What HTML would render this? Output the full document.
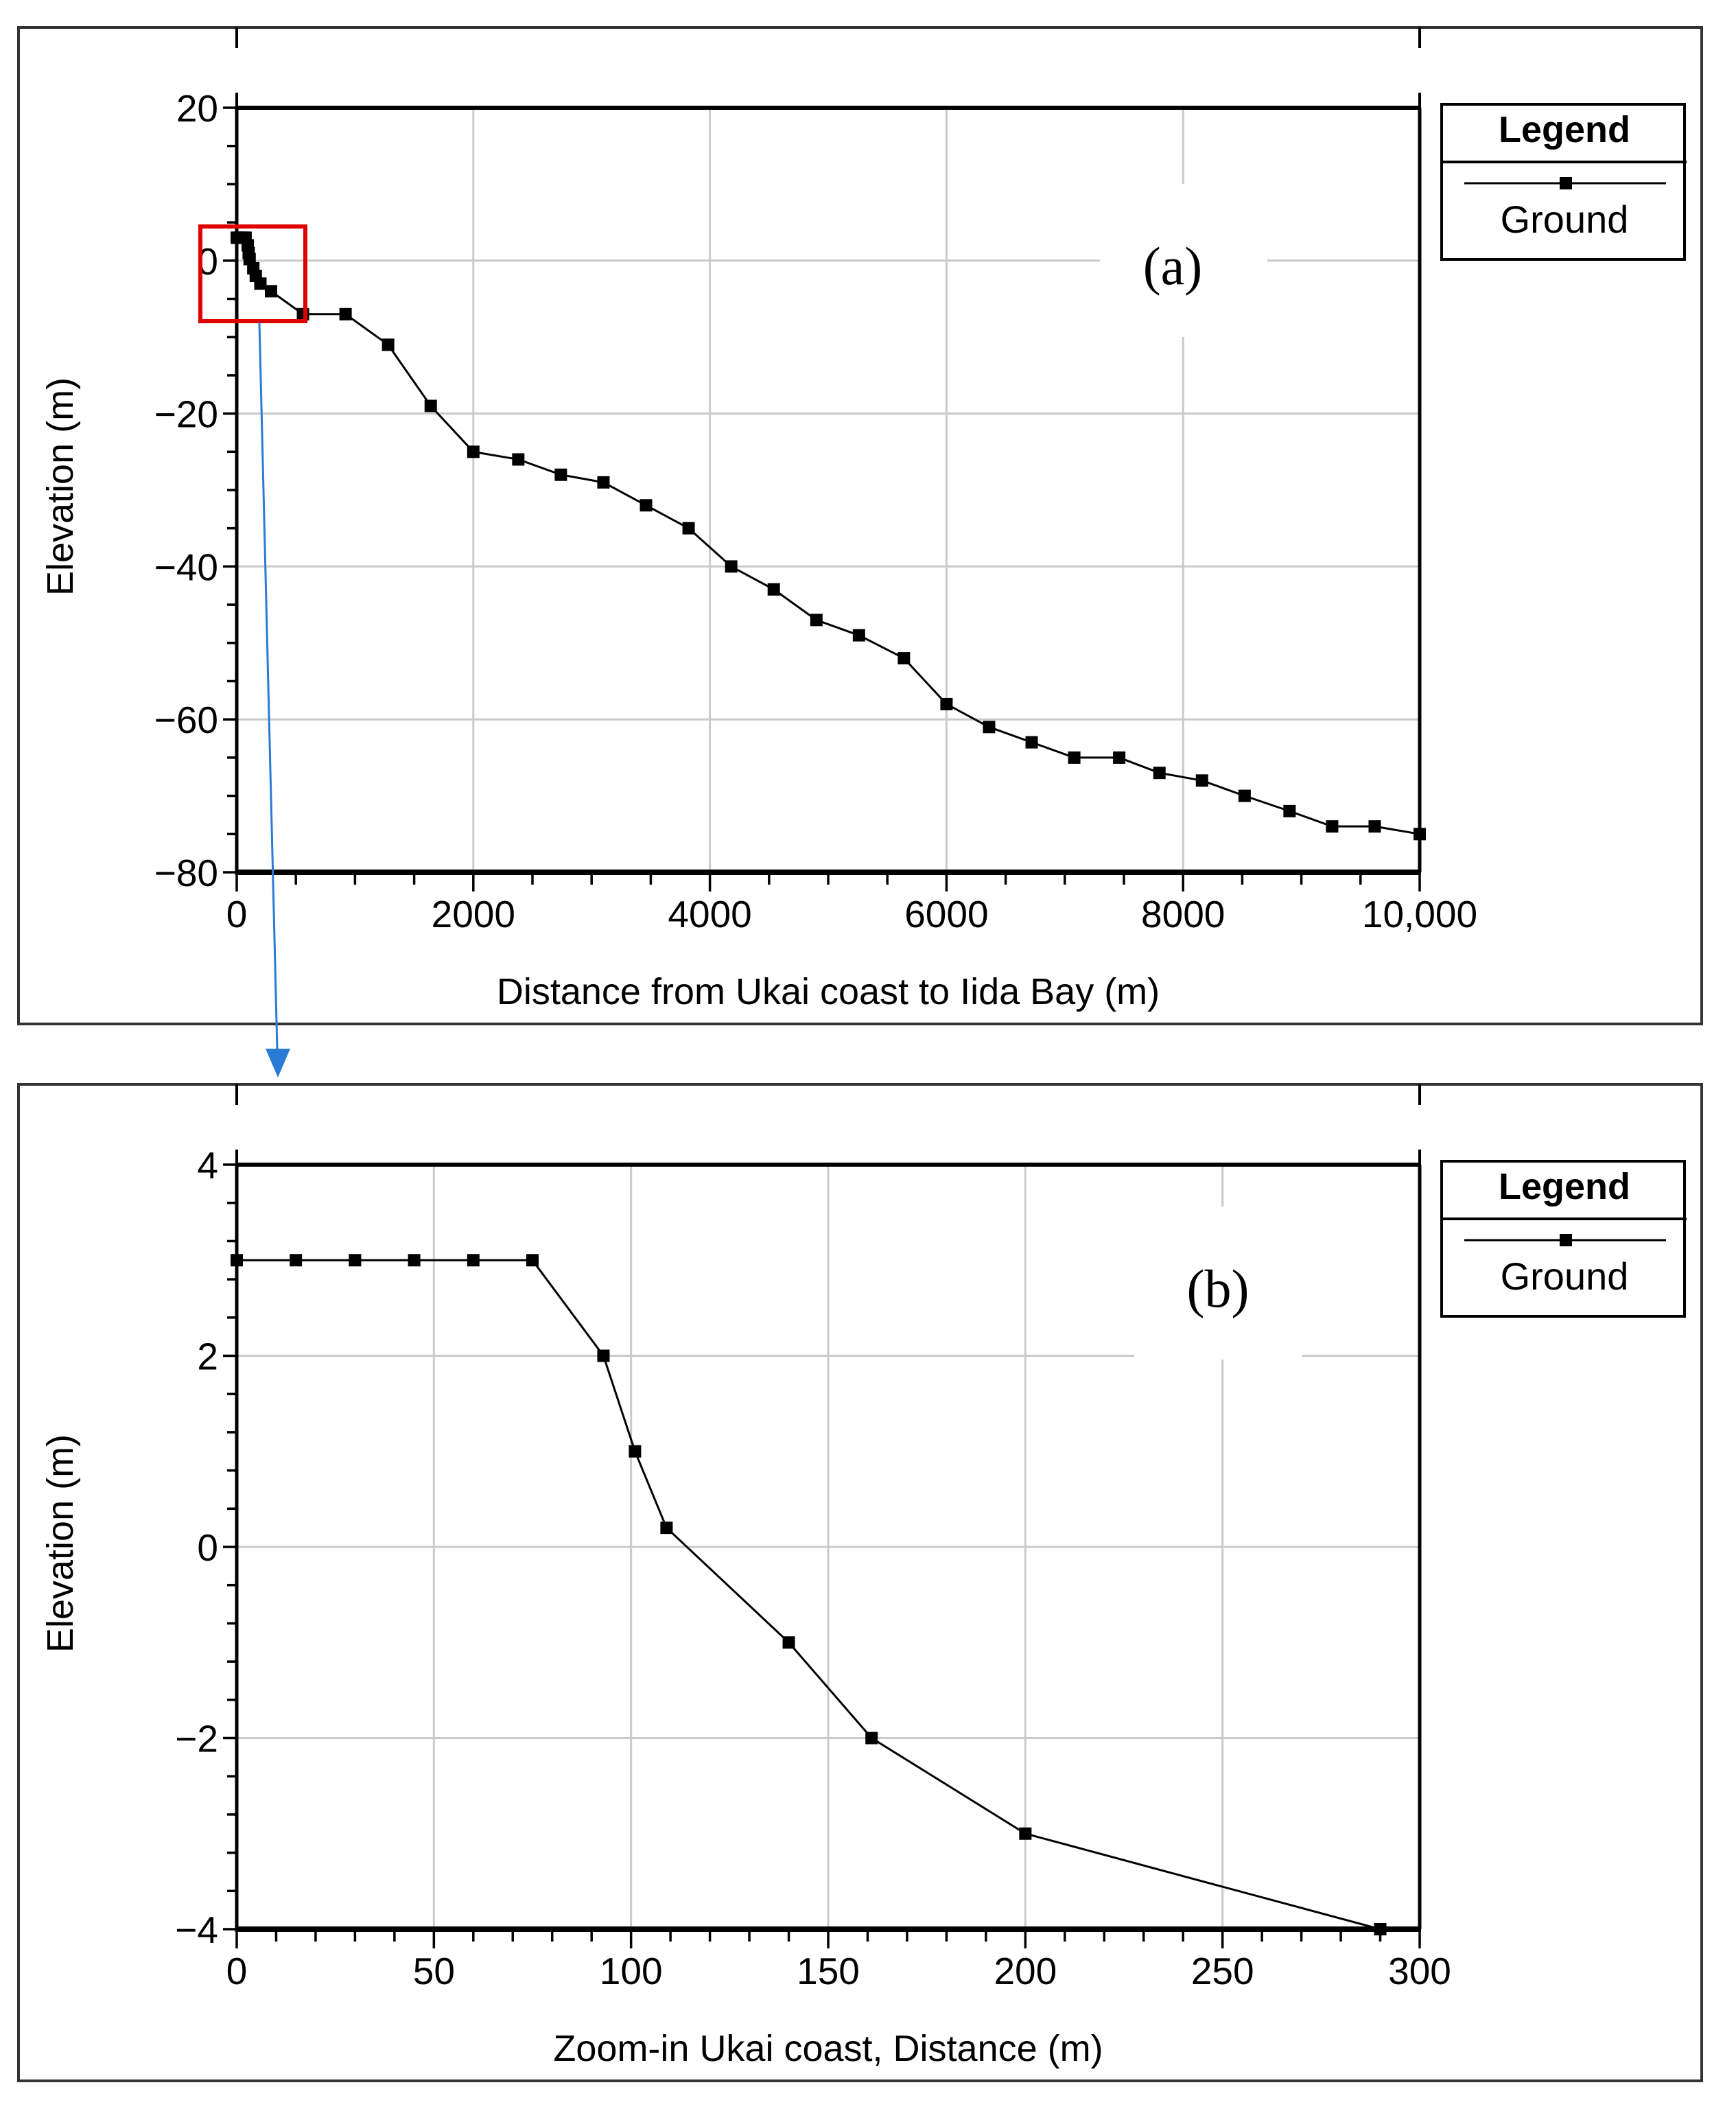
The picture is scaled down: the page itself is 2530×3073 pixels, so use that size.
<!DOCTYPE html>
<html><head><meta charset="utf-8"><style>
html,body{margin:0;padding:0;background:#fff;}
svg{display:block;font-family:"Liberation Sans",sans-serif;}
</style></head><body>
<svg id="fig" width="2530" height="3073" viewBox="0 0 2530 3073" xmlns="http://www.w3.org/2000/svg"></svg>
<script>
// Panel (a) data
const distA = [0,15,30,45,60,75,93,101,109,140,161,200,290,560,920,1280,1640,2000,2380,2740,3100,3460,3820,4180,4540,4900,5260,5640,6000,6360,6720,7080,7460,7800,8160,8520,8900,9260,9620,10000];
const elevA = [3,3,3,3,3,3,2,1,0.2,-1,-2,-3,-4,-7,-7,-11,-19,-25,-26,-28,-29,-32,-35,-40,-43,-47,-49,-52,-58,-61,-63,-65,-65,-67,-68,-70,-72,-74,-74,-75];
const xTicksA = [0,2000,4000,6000,8000,10000];
const xTickLabelsA = ["0","2000","4000","6000","8000","10,000"];
const yTicksA = [20,0,-20,-40,-60,-80];
const yTickLabelsA = ["20","0","\u221220","\u221240","\u221260","\u221280"];
// Panel (b) data
const distB = [0,15,30,45,60,75,93,101,109,140,161,200,290];
const elevB = [3,3,3,3,3,3,2,1,0.2,-1,-2,-3,-4];
const xTicksB = [0,50,100,150,200,250,300];
const xTickLabelsB = ["0","50","100","150","200","250","300"];
const yTicksB = [4,2,0,-2,-4];
const yTickLabelsB = ["4","2","0","\u22122","\u22124"];

const NS="http://www.w3.org/2000/svg";
const svg=document.getElementById('fig');
function mk(tag,attrs,parent){const e=document.createElementNS(NS,tag);for(const k in attrs)e.setAttribute(k,attrs[k]);(parent||svg).appendChild(e);return e;}

function panel(o){
  const g=mk('g',{});
  
  
  const X0=345,X1=2069,T=157+o.off,B=1271+o.off;
  const sx=v=>X0+(v-o.xmin)/(o.xmax-o.xmin)*(X1-X0);
  const sy=v=>T+(o.ymax-v)/(o.ymax-o.ymin)*(B-T);
  const fr=mk('rect',{x:27,y:40+o.off,width:2453,height:1452,fill:'none',stroke:'#333',"stroke-width":4},g);
  
  
  mk('line',{x1:X0,y1:40+o.off,x2:X0,y2:70+o.off,stroke:'#000',"stroke-width":4},g);
  mk('line',{x1:X1,y1:40+o.off,x2:X1,y2:70+o.off,stroke:'#000',"stroke-width":4},g);
  mk('line',{x1:X0,y1:135+o.off,x2:X0,y2:T,stroke:'#000',"stroke-width":4},g);
  mk('line',{x1:X1,y1:135+o.off,x2:X1,y2:T,stroke:'#000',"stroke-width":4},g);
  o.xt.forEach(v=>{const l=mk('line',{x1:sx(v),y1:T,x2:sx(v),y2:B,stroke:'#cacaca',"stroke-width":3},g);
    
    });
  o.yt.forEach(v=>{const l=mk('line',{x1:X0,y1:sy(v),x2:X1,y2:sy(v),stroke:'#cacaca',"stroke-width":3},g);
    
    });
  const wb=mk('rect',{x:o.lbx-122,y:o.lby-122+o.off,width:244,height:223,fill:'#fff'},g);
  
  
  const pl=mk('text',{x:o.lbx+o.tdx,y:o.lby+o.off+24,"text-anchor":'middle',"font-size":78,"font-family":'"Liberation Serif",serif'},g);
  pl.textContent=o.label;
  
  
  mk('line',{x1:X0,y1:T,x2:X1+2,y2:T,stroke:'#000',"stroke-width":6},g);
  mk('line',{x1:X1,y1:T,x2:X1,y2:B,stroke:'#000',"stroke-width":5},g);
  const ya=mk('line',{x1:X0,y1:T-2,x2:X0,y2:B+4,stroke:'#000',"stroke-width":5},g);
  
  
  const xa=mk('line',{x1:X0,y1:B,x2:X1+2,y2:B,stroke:'#000',"stroke-width":8},g);
  
  
  for(let v=o.xmin;v<=o.xmax+1e-9;v+=o.xminor){
    const maj=o.xt.some(t=>Math.abs(t-v)<1e-6);
    mk('line',{x1:sx(v),y1:B,x2:sx(v),y2:B+(maj?28:18),stroke:'#000',"stroke-width":3.5},g);
  }
  for(let v=o.ymin;v<=o.ymax+1e-9;v+=o.yminor){
    const maj=o.yt.some(t=>Math.abs(t-v)<1e-6);
    mk('line',{x1:X0-(maj?20:14),y1:sy(v),x2:X0,y2:sy(v),stroke:'#000',"stroke-width":3.5},g);
  }
  o.xt.forEach((v,i)=>{const t=mk('text',{x:sx(v),y:B+80,"text-anchor":'middle',"font-size":55},g);t.textContent=o.xl[i];
    
    });
  o.yt.forEach((v,i)=>{const t=mk('text',{x:318,y:sy(v)+20,"text-anchor":'end',"font-size":55},g);t.textContent=o.yl[i];
    
    });
  const xt=mk('text',{x:1207,y:1463+o.off,"text-anchor":'middle',"font-size":54},g);xt.textContent=o.xtitle;
  
  
  const yt=mk('text',{x:0,y:0,"text-anchor":'middle',"font-size":54,transform:`translate(106,${709+o.off}) rotate(-90)`},g);yt.textContent='Elevation (m)';
  
  
  const pts=o.xs.map((x,i)=>sx(x)+','+sy(o.ys[i])).join(' ');
  const pl2=mk('polyline',{points:pts,fill:'none',stroke:'#000',"stroke-width":3},g);
  
  
  o.xs.forEach((x,i)=>{const m=mk('rect',{x:sx(x)-9,y:sy(o.ys[i])-9,width:18,height:18,fill:'#000'},g);
    
    });
  const lg=mk('g',{},g);
  
  
  mk('rect',{x:2101,y:152+o.off,width:354,height:226,fill:'#fff',stroke:'#000',"stroke-width":4},lg);
  mk('line',{x1:2101,y1:236+o.off,x2:2458,y2:236+o.off,stroke:'#000',"stroke-width":4},lg);
  const lt=mk('text',{x:2280,y:207+o.off,"text-anchor":'middle',"font-size":54,"font-weight":'bold'},lg);lt.textContent='Legend';
  
  
  mk('line',{x1:2134,y1:267+o.off,x2:2428,y2:267+o.off,stroke:'#000',"stroke-width":3},lg);
  mk('rect',{x:2273,y:258+o.off,width:18,height:18,fill:'#000'},lg);
  const le=mk('text',{x:2280,y:339+o.off,"text-anchor":'middle',"font-size":56},lg);le.textContent='Ground';
  
  
}

panel({name:'panel-a',off:0,xmin:0,xmax:10000,ymin:-80,ymax:20,xt:xTicksA,xl:xTickLabelsA,yt:yTicksA,yl:yTickLabelsA,xminor:500,yminor:5,xs:distA,ys:elevA,label:'(a)',lbx:1725,lby:390,tdx:-16,xtitle:'Distance from Ukai coast to Iida Bay (m)'});
panel({name:'panel-b',off:1540,xmin:0,xmax:300,ymin:-4,ymax:4,xt:xTicksB,xl:xTickLabelsB,yt:yTicksB,yl:yTickLabelsB,xminor:10,yminor:0.4,xs:distB,ys:elevB,label:'(b)',lbx:1775,lby:340,tdx:0,xtitle:'Zoom-in Ukai coast, Distance (m)'});

const rb=mk('rect',{x:292,y:330,width:153,height:138,fill:'none',stroke:'#e00000',"stroke-width":6});


const ar=mk('line',{x1:378,y1:470,x2:404,y2:1530,stroke:'#2a7bd4',"stroke-width":3});


const ah=mk('polygon',{points:'387,1528 423,1528 405,1570',fill:'#2a7bd4'});


</script>
</body></html>
